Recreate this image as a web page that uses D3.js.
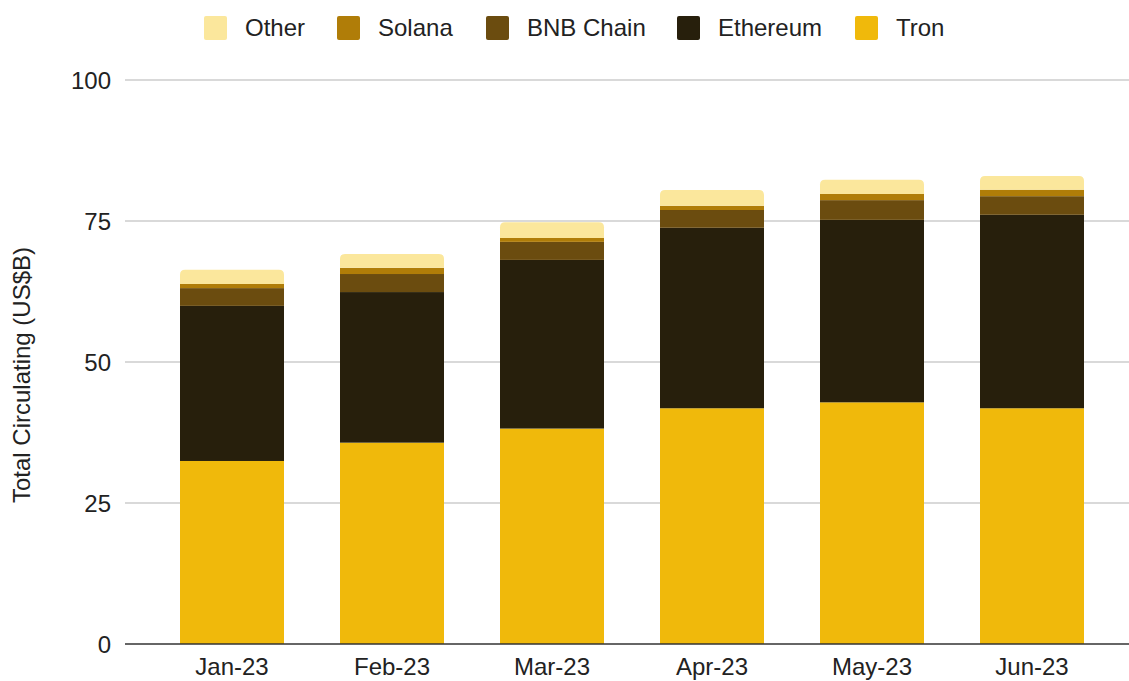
<!DOCTYPE html>
<html>
<head>
<meta charset="utf-8">
<script src="https://cdn.jsdelivr.net/npm/d3@7"></script>
<style>
  html, body { margin: 0; padding: 0; background: #fff; }
  svg { display: block; font-family: "Liberation Sans", Arial, sans-serif; }
</style>
</head>
<body>
<svg id="chart" width="1129" height="681"></svg>
<script>
// Stablecoin supply by chain, US$ billions
const months   = ["Jan-23", "Feb-23", "Mar-23", "Apr-23", "May-23", "Jun-23"];
const tron     = [32.45, 35.7, 38.2, 41.8, 42.85, 41.8];
const ethereum = [27.5, 26.7, 29.9, 32.0, 32.35, 34.3];
const bnbChain = [3.15, 3.2, 3.2, 3.15, 3.5, 3.3];
const solana   = [0.75, 1.1, 0.7, 0.75, 1.1, 1.15];
const other    = [2.5, 2.45, 2.8, 2.8, 2.5, 2.45];
const yTicks   = [0, 25, 50, 75, 100];

// stacking order bottom -> top
const seriesDefs = [
  { key: "Tron",      values: tron,     color: "#f0b90b" },
  { key: "Ethereum",  values: ethereum, color: "#271f0c" },
  { key: "BNB Chain", values: bnbChain, color: "#6b4c0f" },
  { key: "Solana",    values: solana,   color: "#b07d08" },
  { key: "Other",     values: other,    color: "#fbe79c" }
];
const legendOrder = ["Other", "Solana", "BNB Chain", "Ethereum", "Tron"];

const rows = months.map((m, i) => {
  const r = { month: m };
  seriesDefs.forEach(s => r[s.key] = s.values[i]);
  return r;
});

const svg = d3.select("#chart");
const FONT = 24;

const x = d3.scaleBand().domain(months).range([152, 1112])
  .paddingInner(0.35).paddingOuter(0.175);
const y = d3.scaleLinear().domain([0, 100]).range([644, 80]);

// gridlines
svg.append("g").selectAll("line").data(yTicks.filter(t => t !== 0)).join("line")
  .attr("x1", 125).attr("x2", 1129)
  .attr("y1", d => y(d)).attr("y2", d => y(d))
  .attr("stroke", "#cccccc").attr("stroke-width", 1.3);

// y axis labels
const yAxis = d3.axisLeft(y).tickValues(yTicks).tickSize(0).tickPadding(0);
svg.append("g").attr("transform", "translate(111,0)").call(yAxis)
  .call(g => g.select(".domain").remove())
  .call(g => g.selectAll("text")
    .attr("font-size", FONT).attr("fill", "#222").attr("dy", "0.35em")
    .attr("font-family", "Liberation Sans, Arial, sans-serif"));

// axis title
svg.append("text")
  .attr("transform", "translate(22,375) rotate(-90)")
  .attr("text-anchor", "middle").attr("dy", "0.35em")
  .attr("font-size", FONT).attr("fill", "#222")
  .text("Total Circulating (US$B)");

// stacked bars
const stack = d3.stack().keys(seriesDefs.map(s => s.key));
const layers = stack(rows);
const topKey = seriesDefs[seriesDefs.length - 1].key;

function roundedTop(x0, y0, w, h, r) {
  r = Math.min(r, h, w / 2);
  return `M${x0},${y0 + h}V${y0 + r}Q${x0},${y0} ${x0 + r},${y0}` +
         `H${x0 + w - r}Q${x0 + w},${y0} ${x0 + w},${y0 + r}V${y0 + h}Z`;
}

layers.forEach((layer, li) => {
  const def = seriesDefs[li];
  const g = svg.append("g").attr("fill", def.color);
  layer.forEach(d => {
    const x0 = x(d.data.month), w = x.bandwidth();
    const yt = y(d[1]), h = y(d[0]) - y(d[1]);
    if (def.key === topKey) {
      g.append("path").attr("d", roundedTop(x0, yt, w, h, 5));
    } else {
      g.append("rect").attr("x", x0).attr("y", yt).attr("width", w).attr("height", h);
    }
  });
});

// baseline
svg.append("line").attr("x1", 125).attr("x2", 1129)
  .attr("y1", y(0)).attr("y2", y(0))
  .attr("stroke", "#333").attr("stroke-width", 1.3);

// x axis labels
const xAxis = d3.axisBottom(x).tickSize(0).tickPadding(0);
svg.append("g").attr("transform", "translate(0,658)").call(xAxis)
  .call(g => g.select(".domain").remove())
  .call(g => g.selectAll("text")
    .attr("font-size", FONT).attr("fill", "#222").attr("dy", "0.71em")
    .attr("font-family", "Liberation Sans, Arial, sans-serif"));

// legend
const legendPos = [204, 337, 486, 677, 855];
const legend = svg.append("g");
legendOrder.forEach((k, i) => {
  const def = seriesDefs.find(s => s.key === k);
  const gx = legendPos[i];
  legend.append("rect").attr("x", gx).attr("y", 16).attr("width", 23).attr("height", 24)
    .attr("rx", 2).attr("fill", def.color);
  legend.append("text").attr("x", gx + 41).attr("y", 28).attr("dy", "0.35em")
    .attr("font-size", FONT).attr("fill", "#222").text(k);
});
</script>
</body>
</html>
